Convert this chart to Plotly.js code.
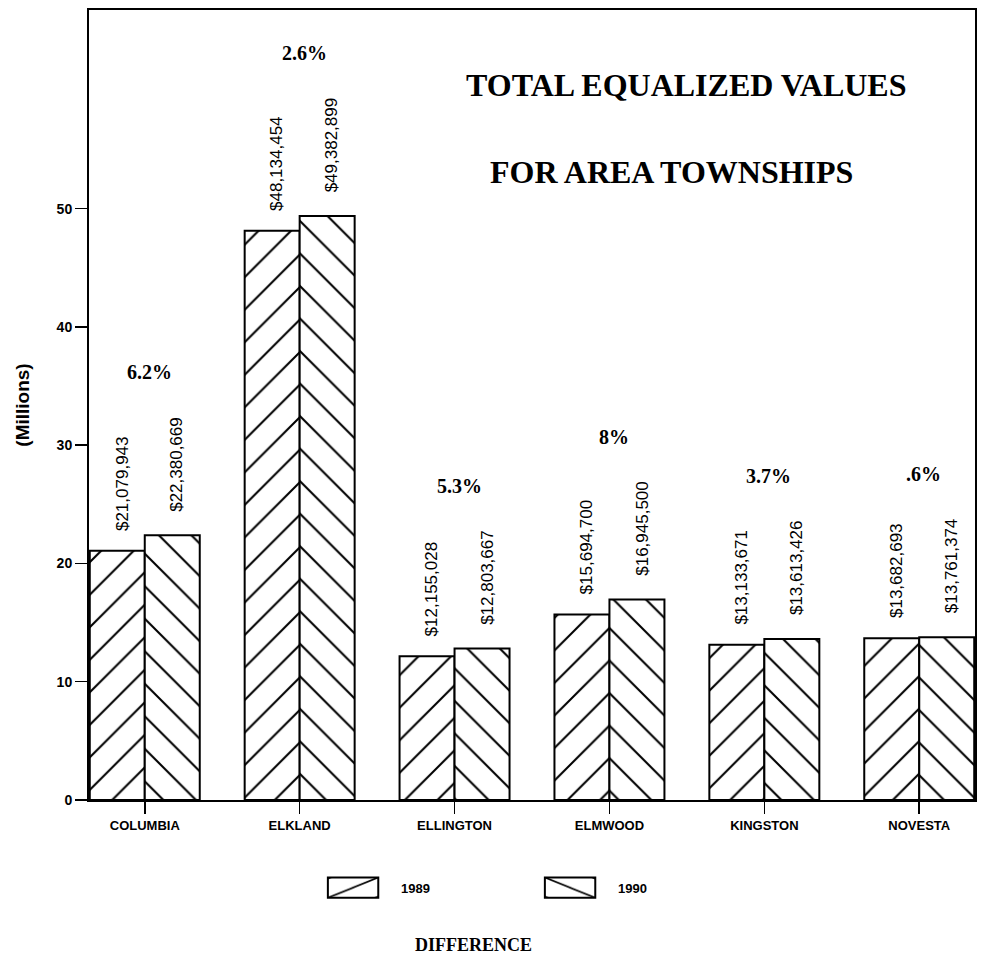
<!DOCTYPE html>
<html>
<head>
<meta charset="utf-8">
<script src="https://cdn.plot.ly/plotly-3.0.1.min.js"></script>
<style>
html,body{margin:0;padding:0;background:#fff;}
#chart{width:991px;height:961px;}
#chart .legend .scrollbox { clip-path: none !important; }
#chart .legendpoints path { transform: translate(-8px, 0px) scale(4.2, 1.7) !important; vector-effect: non-scaling-stroke; }
</style>
</head>
<body>
<div id="chart"></div>
<script>
// ---- data ----
const townships = ["COLUMBIA", "ELKLAND", "ELLINGTON", "ELMWOOD", "KINGSTON", "NOVESTA"];
const values1989 = [21079943, 48134454, 12155028, 15694700, 13133671, 13682693];
const values1990 = [22380669, 49382899, 12803667, 16945500, 13613426, 13761374];
const differenceLabels = ["6.2%", "2.6%", "5.3%", "8%", "3.7%", ".6%"];
const yTickVals = [0, 10, 20, 30, 40, 50];
const seriesNames = ["1989", "1990"];

// ---- helpers ----
const toMillions = v => v / 1e6;
const fmtDollar = v => "$" + v.toLocaleString("en-US");
const sans = "Liberation Sans, Arial, sans-serif";
const serif = "Liberation Serif, Times New Roman, serif";

const m1989 = values1989.map(toMillions);
const m1990 = values1990.map(toMillions);

function barTrace(name, yvals, shape) {
  return {
    type: "bar",
    name: name,
    x: townships,
    y: yvals,
    marker: {
      color: "white",
      line: {color: "black", width: 2},
      pattern: {shape: shape, fgcolor: "black", bgcolor: "white", size: 23, solidity: 0.09}
    },
    hoverinfo: "skip"
  };
}

const traces = [
  barTrace(seriesNames[0], m1989, "/"),
  barTrace(seriesNames[1], m1990, "\\")
];

const barOffset = 0.178; // half of a bar width in category units
const annotations = [];
townships.forEach((t, i) => {
  annotations.push({
    x: i - barOffset + 0.03, y: m1989[i], xref: "x", yref: "y",
    text: fmtDollar(values1989[i]), textangle: -90, showarrow: false,
    xanchor: "center", yanchor: "bottom", yshift: 18,
    font: {family: sans, size: 17, color: "black"}
  });
  annotations.push({
    x: i + barOffset + 0.03, y: m1990[i], xref: "x", yref: "y",
    text: fmtDollar(values1990[i]), textangle: -90, showarrow: false,
    xanchor: "center", yanchor: "bottom", yshift: 22,
    font: {family: sans, size: 17, color: "black"}
  });
  annotations.push({
    x: i + 0.03, y: Math.max(m1989[i], m1990[i]), xref: "x", yref: "y",
    text: "<b>" + differenceLabels[i] + "</b>", showarrow: false,
    xanchor: "center", yanchor: "middle", yshift: 163,
    font: {family: serif, size: 20, color: "black"}
  });
});

annotations.push(
  {x: 0.674, y: 0.905, xref: "paper", yref: "paper", showarrow: false,
   xanchor: "center", yanchor: "middle",
   text: "<b>TOTAL EQUALIZED VALUES</b>", font: {family: serif, size: 32, color: "black"}},
  {x: 0.657, y: 0.795, xref: "paper", yref: "paper", showarrow: false,
   xanchor: "center", yanchor: "middle",
   text: "<b>FOR AREA TOWNSHIPS</b>", font: {family: serif, size: 32, color: "black"}},
  {x: 0.4345, y: -0.1835, xref: "paper", yref: "paper", showarrow: false,
   xanchor: "center", yanchor: "middle",
   text: "<b>DIFFERENCE</b>", font: {family: serif, size: 18, color: "black"}}
);

const layout = {
  width: 991, height: 961,
  margin: {l: 89, r: 16, t: 10, b: 161},
  paper_bgcolor: "white", plot_bgcolor: "white",
  barmode: "group", bargap: 0.29, bargroupgap: 0,
  showlegend: true,
  legend: {
    orientation: "h", x: 0.552, y: -0.111, xanchor: "center", yanchor: "middle",
    entrywidth: 172, font: {family: sans, size: 13, color: "black", weight: "bold"},
    bgcolor: "rgba(0,0,0,0)"
  },
  xaxis: {
    type: "category", range: [-0.36, 5.36],
    showline: true, linecolor: "black", linewidth: 2, mirror: true,
    ticks: "outside", ticklen: 12, tickwidth: 1.5, tickcolor: "black",
    showgrid: false, zeroline: false,
    tickfont: {family: sans, size: 13, color: "black", weight: "bold"}
  },
  yaxis: {
    range: [0, 66.8], tickvals: yTickVals,
    showline: true, linecolor: "black", linewidth: 2, mirror: true,
    ticks: "outside", ticklen: 12, tickwidth: 1.5, tickcolor: "black",
    showgrid: false, zeroline: false,
    tickfont: {family: sans, size: 14, color: "black", weight: "bold"},
    title: {text: "(Millions)", standoff: 22, font: {family: sans, size: 19, color: "black", weight: "bold"}}
  },
  annotations: annotations
};

Plotly.newPlot("chart", traces, layout, {staticPlot: true, displayModeBar: false});
</script>
</body>
</html>
